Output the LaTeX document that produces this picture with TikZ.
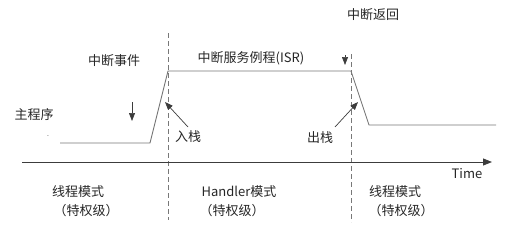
\documentclass[tikz,border=0pt]{standalone}
\usepackage{fontspec}
\setmainfont{Noto Sans CJK SC}
\usetikzlibrary{arrows.meta, positioning}
\definecolor{wavegray}{RGB}{120,120,120}
\definecolor{axisgray}{RGB}{60,60,60}

\begin{document}
\begin{tikzpicture}[x=1pt, y=-1pt,
    font=\fontsize{13}{15}\selectfont,
    lab/.style={inner sep=1pt, text=black!85},
    wave/.style={draw=wavegray, line width=0.9pt},
    axis/.style={draw=axisgray, line width=0.9pt, -{Triangle[length=9pt, width=7pt]}},
    border/.style={draw=wavegray, dash pattern=on 5pt off 3pt, line width=0.9pt},
    ptr/.style={draw=axisgray, line width=0.7pt, -{Triangle[length=8pt, width=6pt]}},
  ]
  \useasboundingbox (0,0) rectangle (516,241);
  % waveform
  \coordinate (w0) at (60,143);
  \coordinate (w1) at (150,143);
  \coordinate (w2) at (168,71);
  \coordinate (w3) at (351,71);
  \coordinate (w4) at (369,125);
  \coordinate (w5) at (496,125);
  \draw[wave] (w0) -- (w1) -- (w2) -- (w3) -- (w4) -- (w5);
  % mode borders
  \coordinate (m1t) at (168,33);
  \coordinate (m1b) at (168,220);
  \coordinate (m2t) at (351,54);
  \coordinate (m2b) at (351,222);
  \draw[border] (m1t) -- (m1b);
  \draw[border] (m2t) -- (m2b);
  % time axis
  \coordinate (t0) at (22,162);
  \coordinate (t1) at (492,162);
  \draw[axis] (t0) -- (t1);
  \node[lab] (time) at (467,174) {Time};
  % labels
  \node[lab] (main)  at (34,115)  {主程序};
  \node[lab, font=\tiny] (dash) at (48,137) {-};
  \node[lab] (event) at (114,61)  {中断事件};
  \node[lab] (isr)   at (251,58)  {中断服务例程(ISR)};
  \node[lab] (ret)   at (373,15)  {中断返回};
  \node[lab] (push)  at (188,137) {入栈};
  \node[lab] (pop)   at (320,138) {出栈};
  % arrows
  \coordinate (e0) at (132,102);
  \coordinate (e1) at (132,121);
  \draw[ptr] (e0) -- (e1);
  \coordinate (r0) at (345,55);
  \coordinate (r1) at (345,65);
  \draw[ptr] (r0) -- (r1);
  \coordinate (p0) at (188,127);
  \coordinate (p1) at (165,102);
  \draw[ptr] (p0) -- (p1);
  \coordinate (q0) at (335,127);
  \coordinate (q1) at (358,102);
  \draw[ptr] (q0) -- (q1);
  % modes
  \node[lab] (thr1) at (78,192)  {线程模式};
  \node[lab] (prv1) at (86,211)  {（特权级）};
  \node[lab] (hnd)  at (239,192) {Handler模式};
  \node[lab] (prv2) at (232,211) {（特权级）};
  \node[lab] (thr2) at (395,192) {线程模式};
  \node[lab] (prv3) at (401,211) {（特权级）};
\end{tikzpicture}
\end{document}
